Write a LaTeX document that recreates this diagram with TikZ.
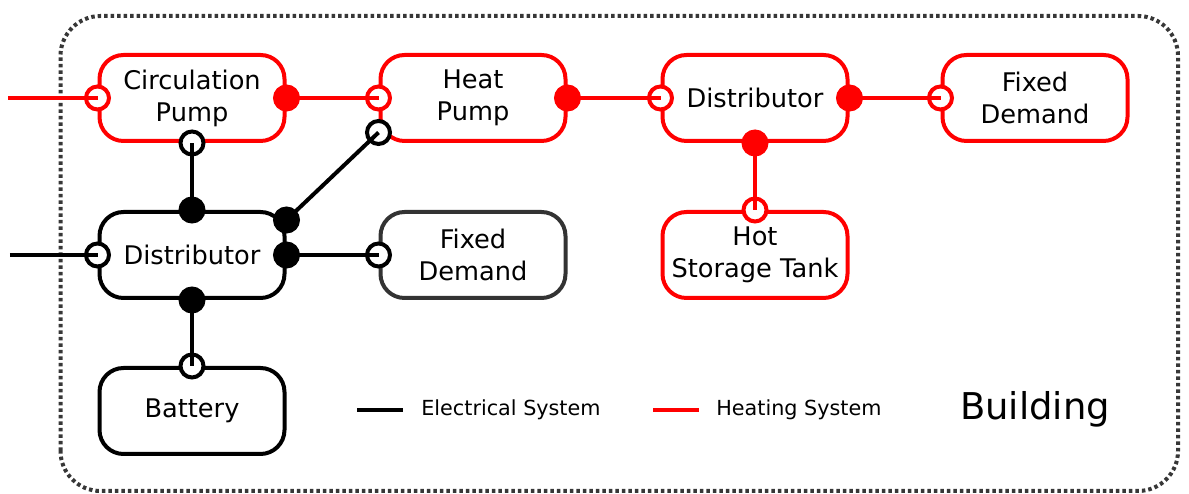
\documentclass[tikz,border=0pt]{standalone}
\usepackage{fontspec}
\setmainfont{DejaVu Sans}
\usetikzlibrary{calc, positioning}
\definecolor{HeatRed}{RGB}{255, 0, 0}
\definecolor{DemandGray}{RGB}{51, 51, 51}
\definecolor{FrameGray}{RGB}{55, 55, 55}

\begin{document}
\begin{tikzpicture}[
        unit/.style={draw, rounded corners=0.48cm, minimum height=1.72cm, minimum width=3.7cm,
                     align=center, line width=0.08cm, inner sep=0pt,
                     font=\fontsize{14.6}{18.2}\selectfont},
        heat/.style={unit, draw=HeatRed},
        elec/.style={unit, draw=#1},
        elec/.default=black,
        portopen/.style={circle, draw=#1, fill=white, line width=0.08cm,
                         minimum size=0.46cm, inner sep=0pt},
        portopen/.default=black,
        portfull/.style={circle, draw=#1, fill=#1, line width=0.08cm,
                         minimum size=0.46cm, inner sep=0pt},
        portfull/.default=black,
        link/.style={line width=0.08cm, #1},
        link/.default=black,
        legend/.style={anchor=west, inner sep=0pt, font=\fontsize{11.8}{14}\selectfont}]

        \useasboundingbox (0, 0) rectangle (23.78, 9.88);

        % Building frame
        \draw[FrameGray, line width=0.08cm, dash pattern=on 0.07cm off 0.06cm,
              rounded corners=0.8cm] (1.21, 0.06) rectangle (23.56, 9.56);

        % Heating system (top row)
        \node[heat] (cpump) at (3.84, 7.92) {Circulation\\Pump};
        \node[heat] (hpump) at (9.46, 7.92) {Heat\\Pump};
        \node[heat] (hdist) at (15.10, 7.92) {Distributor};
        \node[heat] (hdemand) at (20.70, 7.92) {Fixed\\Demand};
        \node[heat] (tank) at (15.10, 4.78) {Hot\\Storage Tank};

        % Electrical system
        \node[elec] (edist) at (3.84, 4.78) {Distributor};
        \node[elec=DemandGray] (edemand) at (9.46, 4.78) {Fixed\\Demand};
        \node[elec] (battery) at (3.84, 1.66) {Battery};

        % Inputs (open ports)
        \node[portopen=HeatRed] (cpumpIn) at (cpump.west) {};
        \node[portopen=HeatRed] (hpumpIn) at (hpump.west) {};
        \node[portopen=HeatRed] (hdistIn) at (hdist.west) {};
        \node[portopen=HeatRed] (hdemandIn) at (hdemand.west) {};
        \node[portopen=HeatRed] (tankIn) at (tank.north) {};
        \node[portopen] (cpumpEl) at (cpump.south) {};
        \node[portopen] (hpumpEl) at ($(hpump.west)+(0, -0.69)$) {};
        \node[portopen] (edistIn) at (edist.west) {};
        \node[portopen] (edemandIn) at (edemand.west) {};
        \node[portopen] (batteryIn) at (battery.north) {};

        % Free ends on the left
        \coordinate (heatSrc) at (0.16, 7.92);
        \coordinate (elecSrc) at (0.2, 4.78);

        % Outputs (filled ports)
        \coordinate (cpumpOutP) at (cpump.east);
        \coordinate (hpumpOutP) at (hpump.east);
        \coordinate (hdistOutP) at (hdist.east);
        \coordinate (hdistDownP) at (hdist.south);
        \coordinate (edistUpP) at (edist.north);
        \coordinate (edistHpP) at ($(edist.east)+(0, 0.7)$);
        \coordinate (edistOutP) at (edist.east);
        \coordinate (edistDownP) at (edist.south);

        % Heating connections
        \draw[link=HeatRed] (heatSrc) -- (cpumpIn.center);
        \draw[link=HeatRed] (cpumpOutP) -- (hpumpIn.center);
        \draw[link=HeatRed] (hpumpOutP) -- (hdistIn.center);
        \draw[link=HeatRed] (hdistOutP) -- (hdemandIn.center);
        \draw[link=HeatRed] (hdistDownP) -- (tankIn.center);

        % Electrical connections
        \draw[link] (elecSrc) -- (edistIn.center);
        \draw[link] (edistUpP) -- (cpumpEl.center);
        \draw[link] (edistHpP) -- (hpumpEl.center);
        \draw[link] (edistOutP) -- (edemandIn.center);
        \draw[link] (edistDownP) -- (batteryIn.center);

        \node[portfull=HeatRed] (cpumpOut) at (cpumpOutP) {};
        \node[portfull=HeatRed] (hpumpOut) at (hpumpOutP) {};
        \node[portfull=HeatRed] (hdistOut) at (hdistOutP) {};
        \node[portfull=HeatRed] (hdistDown) at (hdistDownP) {};
        \node[portfull] (edistUp) at (edistUpP) {};
        \node[portfull] (edistHp) at (edistHpP) {};
        \node[portfull] (edistOut) at (edistOutP) {};
        \node[portfull] (edistDown) at (edistDownP) {};

        % Legend
        \coordinate (elecKeyA) at (7.14, 1.68);
        \coordinate (elecKeyB) at (8.06, 1.68);
        \draw[link] (elecKeyA) -- (elecKeyB);
        \node[legend] (elecKey) at (8.42, 1.68) {Electrical System};
        \coordinate (heatKeyA) at (13.06, 1.68);
        \coordinate (heatKeyB) at (13.98, 1.68);
        \draw[link=HeatRed] (heatKeyA) -- (heatKeyB);
        \node[legend] (heatKey) at (14.32, 1.68) {Heating System};

        \node[font=\fontsize{21}{25}\selectfont] (bldg) at (20.70, 1.70) {Building};
\end{tikzpicture}
\end{document}
